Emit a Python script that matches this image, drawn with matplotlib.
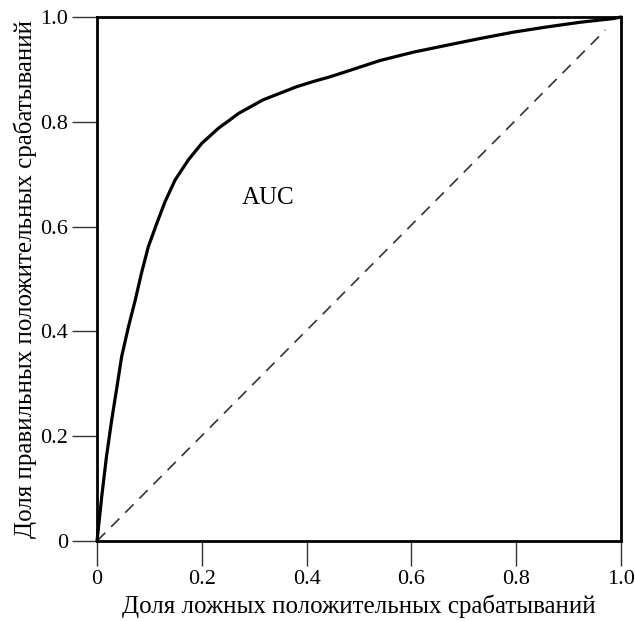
import numpy as np
import matplotlib
matplotlib.use("Agg")
import matplotlib.pyplot as plt

plt.rcParams['font.family'] = ['Liberation Serif', 'DejaVu Serif']

# ROC curve points
fpr = [0.0, 0.009, 0.018, 0.028, 0.038, 0.047, 0.060, 0.073, 0.085, 0.098,
       0.114, 0.130, 0.149, 0.174, 0.200, 0.232, 0.254, 0.270, 0.317,
       0.381, 0.413, 0.445, 0.476, 0.540, 0.604, 0.667, 0.731, 0.794,
       0.858, 0.922, 0.985, 1.0]
tpr = [0.0, 0.085, 0.161, 0.231, 0.294, 0.352, 0.409, 0.460, 0.512, 0.562,
       0.606, 0.648, 0.689, 0.727, 0.759, 0.788, 0.804, 0.816, 0.842,
       0.867, 0.877, 0.886, 0.896, 0.917, 0.933, 0.946, 0.959, 0.971,
       0.981, 0.990, 0.997, 1.0]
diag_x = [0.0, 0.97]
diag_y = [0.0, 0.975]

ticks = [0, 0.2, 0.4, 0.6, 0.8, 1.0]
tick_labels = ['0', '0.2', '0.4', '0.6', '0.8', '1.0']

fig = plt.figure(figsize=(6.35, 6.21), dpi=100)
ax = fig.add_axes([0.1528, 0.1288, 0.8252, 0.8438])

ax.plot(diag_x, diag_y, color='#333333', lw=1.2, ls=(0, (7, 5)))
ax.plot(fpr, tpr, color='black', lw=2.3, clip_on=False,
        solid_capstyle='round', solid_joinstyle='round')

ax.text(0.326, 0.655, 'AUC', fontsize=18, ha='center', va='center')

ax.set_xlim(0, 1)
ax.set_ylim(0, 1)
ax.set_xticks(ticks)
ax.set_xticklabels(tick_labels)
ax.set_yticks(ticks)
ax.set_yticklabels(tick_labels)
ax.tick_params(direction='out', length=18, width=1.0, color='#333333',
               labelsize=16, pad=3)
for s in ax.spines.values():
    s.set_linewidth(2.0)

ax.set_xlabel('Доля ложных положительных срабатываний', fontsize=18, labelpad=4)
ax.set_ylabel('Доля правильных положительных срабатываний', fontsize=18, labelpad=2)

fig.savefig('out.png', dpi=100)
